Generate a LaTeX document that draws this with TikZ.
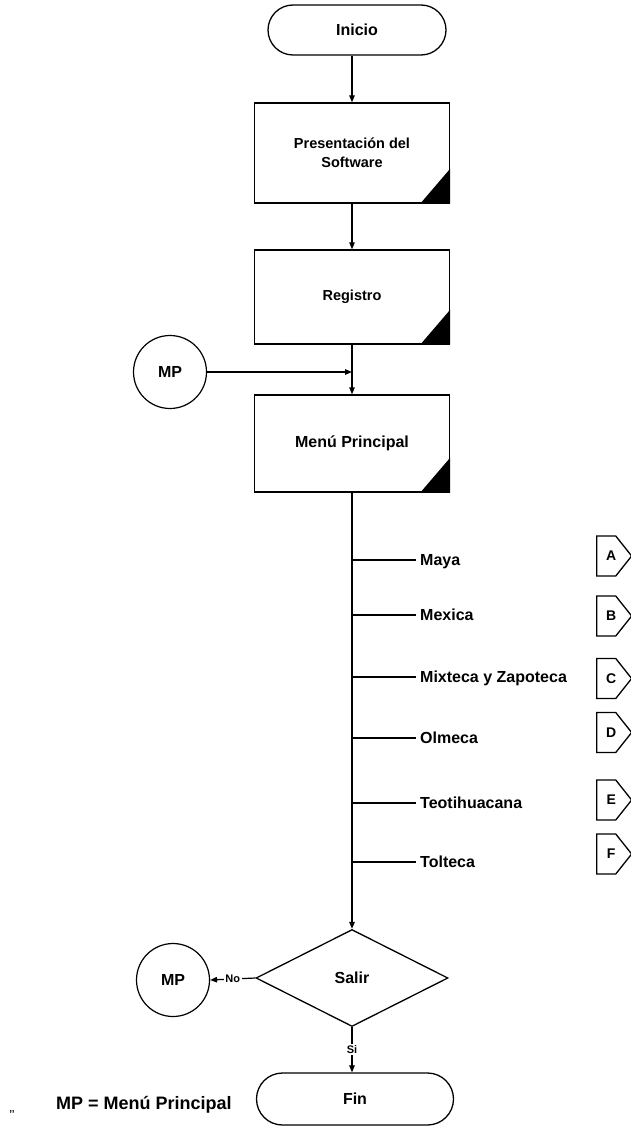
\documentclass[tikz,border=0pt]{standalone}
\usepackage{fontspec}
\setmainfont{Liberation Sans}
\usetikzlibrary{shapes.geometric,shapes.misc,shapes.symbols,arrows.meta}
\newcommand{\fsz}[1]{\fontsize{#1}{#1}\selectfont\bfseries}
\begin{document}
\begin{tikzpicture}[x=1pt,y=-1pt,
  every node/.style={inner sep=0pt},
  term/.style={rounded rectangle, draw, line width=1.3pt, minimum height=50pt, font=\fsz{16}},
  proc/.style={rectangle, draw, line width=1.4pt, minimum width=195pt, font=\fsz{14.5}, align=center},
  conn/.style={circle, draw, line width=1.2pt, minimum size=73pt, font=\fsz{16}},
  dec/.style={diamond, draw, line width=1.3pt, aspect=2, minimum width=192pt, minimum height=97pt, font=\fsz{16}},
  offp/.style={signal, signal to=east, signal pointer angle=103, draw, line width=1.3pt,
               minimum width=35pt, minimum height=40pt, anchor=west},
  letter/.style={font=\fsz{14}, xshift=5pt},
  branch/.style={anchor=west, inner sep=4pt, text height=11.5pt, text depth=0pt, font=\fsz{16}},
  small/.style={fill=white, inner sep=1.5pt, font=\fsz{11}},
  line/.style={line width=1.2pt},
  arr/.style={line, -{Triangle[length=7pt,width=5.5pt]}},
  corner/.style={fill=black}]
\useasboundingbox (0,0) rectangle (630,1126);
\fill[white] (0,0) rectangle (630,1126);

% main column
\node[term, minimum width=178pt] (inicio) at (357,30) {Inicio};
\node[proc, minimum height=100pt] (pres) at (352,153) {Presentación del\\[4pt]Software};
\node[proc, minimum height=94pt] (reg) at (352,297) {Registro};
\node[proc, minimum height=97pt, font=\fsz{16}] (menu) at (352,443.5) {Menú Principal};
\node[dec] (salir) at (352,978) {Salir};
\node[term, minimum width=197pt, minimum height=52pt] (fin) at (355,1099) {Fin};

% black corner marks of the process boxes
\foreach \b in {pres,reg,menu}
  \fill[corner] (\b.south east) -- ++(-30,0) -- ++(30,-35) -- cycle;

% connectors to the main menu
\node[conn] (mpa) at (170,372) {MP};
\node[conn] (mpb) at (173,980) {MP};

% flow arrows
\draw[arr] (pres.north |- inicio.south) -- (pres.north);
\draw[arr] (pres.south) -- (reg.north);
\draw[arr] (reg.south) -- (menu.north);
\draw[arr] (mpa.east) -- (mpa.east -| reg.south);
\draw[arr, line width=1.6pt] (menu.south) -- (salir.north);
\draw[arr] (salir.west) -- node[small] {No} (mpb.east);
\draw[arr] (salir.south) -- node[small] {Si} (salir.south |- fin.north);

% menu options
\foreach \n/\y/\t in {maya/560/Maya, mexica/615/Mexica, mixteca/677/Mixteca y Zapoteca,
                      olmeca/738/Olmeca, teoti/803/Teotihuacana, tolteca/862/Tolteca}{
  \node[branch] (\n) at (416,\y) {\t};
  \draw[line] (\n.west -| menu.south) -- (\n.west);
}

% off-page connectors
\foreach \n/\y in {A/556,B/616,C/678.5,D/732.5,E/800,F/854}
  \node[offp, label={[letter]center:\n}] (c\n) at (596,\y) {};

% legend
\node[anchor=west, font=\fsz{18}] (legend) at (56,1105) {MP = Menú Principal};
\node[font=\fsz{10}] (tick) at (12,1114) {’’};
\end{tikzpicture}
\end{document}
